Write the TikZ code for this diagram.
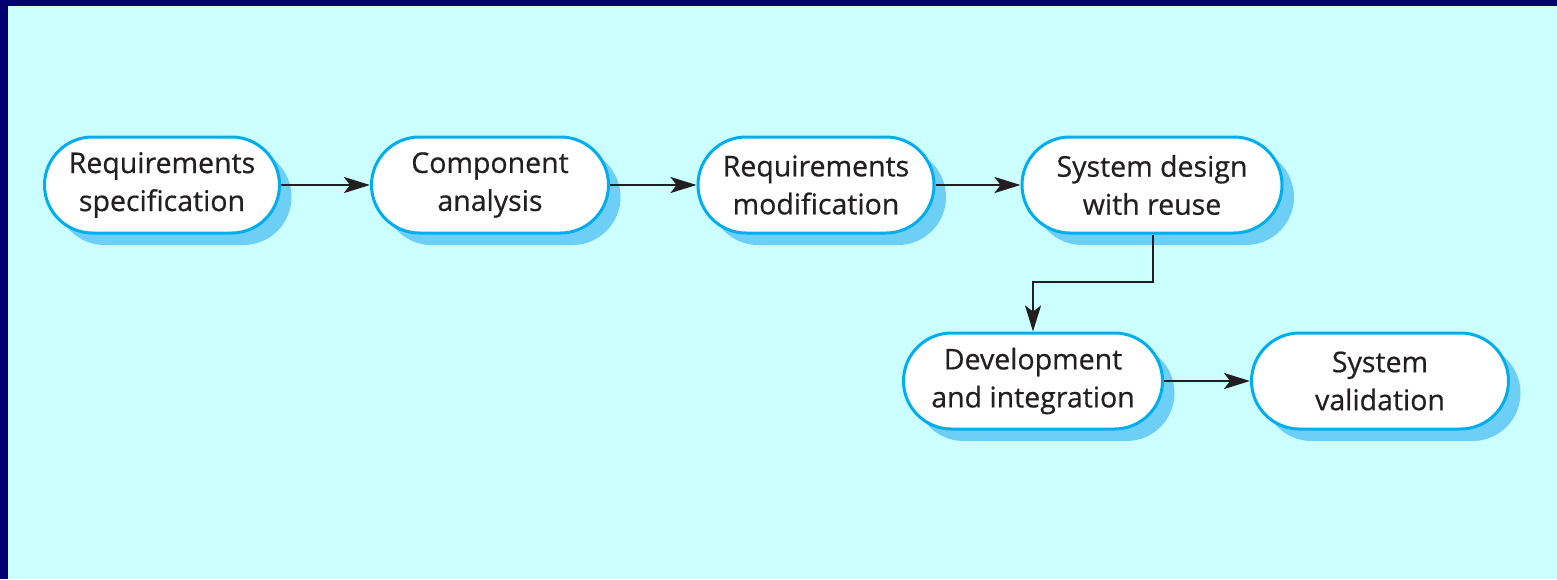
\documentclass[tikz,border=0pt]{standalone}
\usepackage{fontspec}
\setmainfont[FakeBold=0.6]{Open Sans}
\usetikzlibrary{arrows.meta,shadows}
\definecolor{framenavy}{HTML}{000070}
\definecolor{paleaqua}{HTML}{CCFFFF}
\definecolor{stageblue}{HTML}{00AEEF}
\definecolor{shadowblue}{HTML}{6ECFF6}
\definecolor{flowink}{HTML}{231F20}

\tikzset{
  stage/.style={rounded corners=48pt, draw=stageblue, line width=3pt, fill=white,
    minimum height=96pt, align=center, text=flowink,
    font=\fontsize{28.5}{38}\selectfont,
    drop shadow={shadow xshift=12pt, shadow yshift=-12pt, fill=shadowblue, opacity=1}},
  flow/.style={draw=flowink, line width=2.2pt, -{Stealth[length=26pt,width=16pt,inset=6pt]}}
}

\begin{document}
\begin{tikzpicture}[x=1pt,y=-1pt]
  % frame and background
  \fill[framenavy] (0,0) rectangle (1557,579);
  \fill[paleaqua] (8,6) rectangle (1557,579);
  \useasboundingbox (0,0) rectangle (1557,579);

  % stages
  \node [stage, minimum width=235pt] (reqspec) at (162,185) {Requirements\\specification};
  \node [stage, minimum width=237pt] (compan) at (490,185) {Component\\analysis};
  \node [stage, minimum width=236pt] (reqmod) at (816,185) {Requirements\\modification};
  \node [stage, minimum width=260pt] (sysdes) at (1152,185) {System design\\with reuse};
  \node [stage, minimum width=259pt] (devint) at (1033,381) {Development\\and integration};
  \node [stage, minimum width=257pt] (sysval) at (1380,381) {System\\validation};

  % flow
  \draw [flow] (reqspec) -- (compan);
  \draw [flow] (compan) -- (reqmod);
  \draw [flow] (reqmod) -- (sysdes);
  \coordinate (bend) at (1153,282);
  \draw [flow] (sysdes.south -| bend) -- (bend) -- (bend -| devint.north) -- (devint.north);
  \draw [flow] (devint) -- (sysval);
\end{tikzpicture}
\end{document}
